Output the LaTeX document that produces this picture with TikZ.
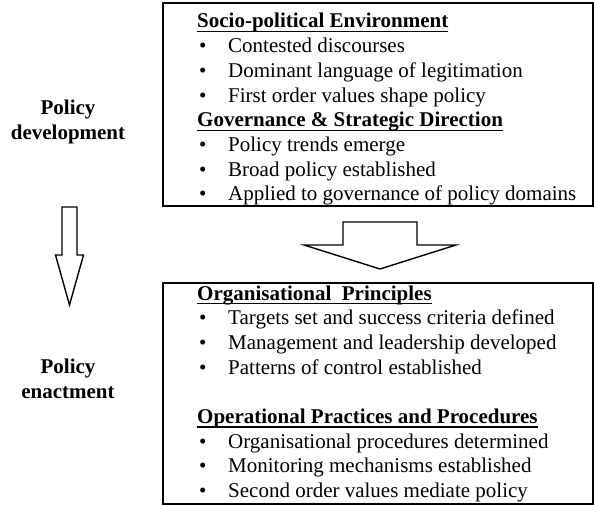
\documentclass[tikz,border=0pt]{standalone}
\usepackage{fontspec}
\setmainfont{Liberation Serif}
\usetikzlibrary{positioning}

\newcommand{\hd}[1]{\setbox0\hbox{\textbf{#1}}\rlap{\rule[-4pt]{\wd0}{1.2pt}}\box0}
\newcommand{\itm}[1]{\hspace*{2pt}\makebox[29pt][l]{\textbullet}#1}

\tikzset{
  frame/.style={draw, line width=2pt, inner sep=0pt, minimum width=430pt},
  body/.style={anchor=base west, inner sep=0pt, font=\fontsize{21}{24.7}\selectfont},
  side/.style={anchor=base, inner sep=0pt, font=\fontsize{21}{25}\selectfont\bfseries},
  hollow/.style={draw, line width=1.4pt, line join=miter, fill=white}
}

\begin{document}
\begin{tikzpicture}[x=1pt,y=-1pt]
  \useasboundingbox (0,0) rectangle (594,505);

  % the two boxes
  \node[frame, minimum height=203pt] (dev box) at (378,105) {};
  \node[frame, minimum height=220.5pt] (enact box) at (378,393.25) {};

  % box contents
  \node[body] (dev text) at (197,28) {\begin{tabular}[t]{@{}l@{}}
    \hd{Socio-political Environment}\\
    \itm{Contested discourses}\\
    \itm{Dominant language of legitimation}\\
    \itm{First order values shape policy}\\
    \hd{Governance \& Strategic Direction}\\
    \itm{Policy trends emerge}\\
    \itm{Broad policy established}\\
    \itm{Applied to governance of policy domains}
  \end{tabular}};
  \node[body] (enact text) at (197,300) {\begin{tabular}[t]{@{}l@{}}
    \hd{Organisational~ Principles}\\
    \itm{Targets set and success criteria defined}\\
    \itm{Management and leadership developed}\\
    \itm{Patterns of control established}\\
    \\
    \hd{Operational Practices and Procedures}\\
    \itm{Organisational procedures determined}\\
    \itm{Monitoring mechanisms established}\\
    \itm{Second order values mediate policy}
  \end{tabular}};

  % side labels
  \node[side] (dev label) at (68,115) {\begin{tabular}[t]{@{}c@{}}Policy\\development\end{tabular}};
  \node[side] (enact label) at (68,373) {\begin{tabular}[t]{@{}c@{}}Policy\\enactment\end{tabular}};

  % hollow arrows
  \draw[hollow] (62,207) -- (77,207) -- (77,255) -- (83.5,255) -- (69.5,305)
    -- (55.5,255) -- (62,255) -- cycle;
  \draw[hollow] (343,222) -- (417,222) -- (417,245) -- (456,245) -- (380,269)
    -- (304,245) -- (343,245) -- cycle;
\end{tikzpicture}
\end{document}
